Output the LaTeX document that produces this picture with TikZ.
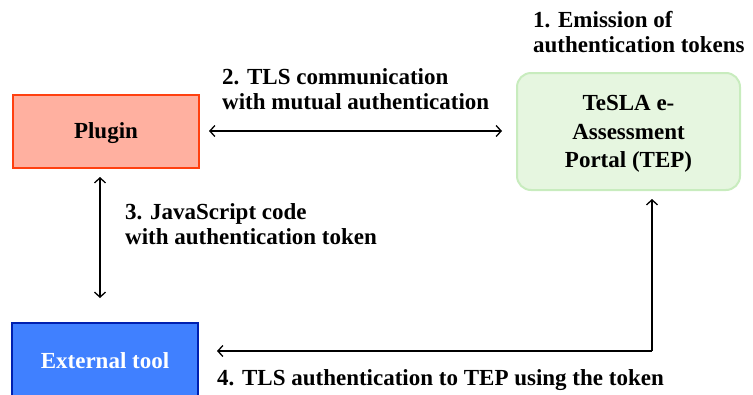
\documentclass[tikz,border=0pt]{standalone}
\usepackage{fontspec}
\setmainfont{Liberation Serif}
\usetikzlibrary{arrows.meta}
\begin{document}
\begin{tikzpicture}[x=1pt,y=-1pt,
  >={Straight Barb[length=5pt,width=11pt,line width=1.3pt]},
  lbl/.style={font=\bfseries\fontsize{23}{25.5}\selectfont, align=left, inner sep=0pt, anchor=north west},
  boxtxt/.style={font=\bfseries\fontsize{23}{28.5}\selectfont, align=center, inner sep=0pt},
  conn/.style={line width=1.3pt, ->},
  dconn/.style={line width=1.3pt, <->}
]
\useasboundingbox (0,0) rectangle (753,394);
\begin{scope}
\clip (0,0) rectangle (753,394);
\draw[line width=2pt, draw={rgb,255:red,255;green,64;blue,16}, fill={rgb,255:red,255;green,176;blue,160}] (13,95) rectangle (199,168);
\node[boxtxt, anchor=base] (plugin) at (106,138.5) {Plugin};
\draw[line width=2pt, draw={rgb,255:red,200;green,236;blue,190}, fill={rgb,255:red,230;green,246;blue,224}, rounded corners=14pt] (517,73) rectangle (740,190);
\node[boxtxt] (tep) at (628.5,134) {TeSLA e-\\Assessment\\Portal (TEP)};
\draw[line width=2pt, draw={rgb,255:red,0;green,32;blue,176}, fill={rgb,255:red,64;green,128;blue,255}] (12,323) rectangle (198,420);
\node[boxtxt, text=white, anchor=base] (ext) at (105,368) {External tool};
\end{scope}
\coordinate (a2l) at (209,131);
\coordinate (a2r) at (502,131);
\draw[dconn] (a2l) -- (a2r);
\coordinate (a3t) at (100,177);
\coordinate (a3b) at (100,298);
\draw[dconn] (a3t) -- (a3b);
\coordinate (a4s) at (652,199);
\coordinate (a4c) at (652,351);
\coordinate (a4e) at (217,351);
\draw[conn] (a4c) -- (a4s);
\draw[conn] (a4c) -- (a4e);
\node[lbl] (l1) at (533,11) {1. Emission of\\authentication tokens};
\node[lbl] (l2) at (222,68) {2. TLS communication\\with mutual authentication};
\node[lbl] (l3) at (125,203) {3. JavaScript code\\with authentication token};
\node[lbl] (l4) at (217,369) {4. TLS authentication to TEP using the token};
\end{tikzpicture}
\end{document}
